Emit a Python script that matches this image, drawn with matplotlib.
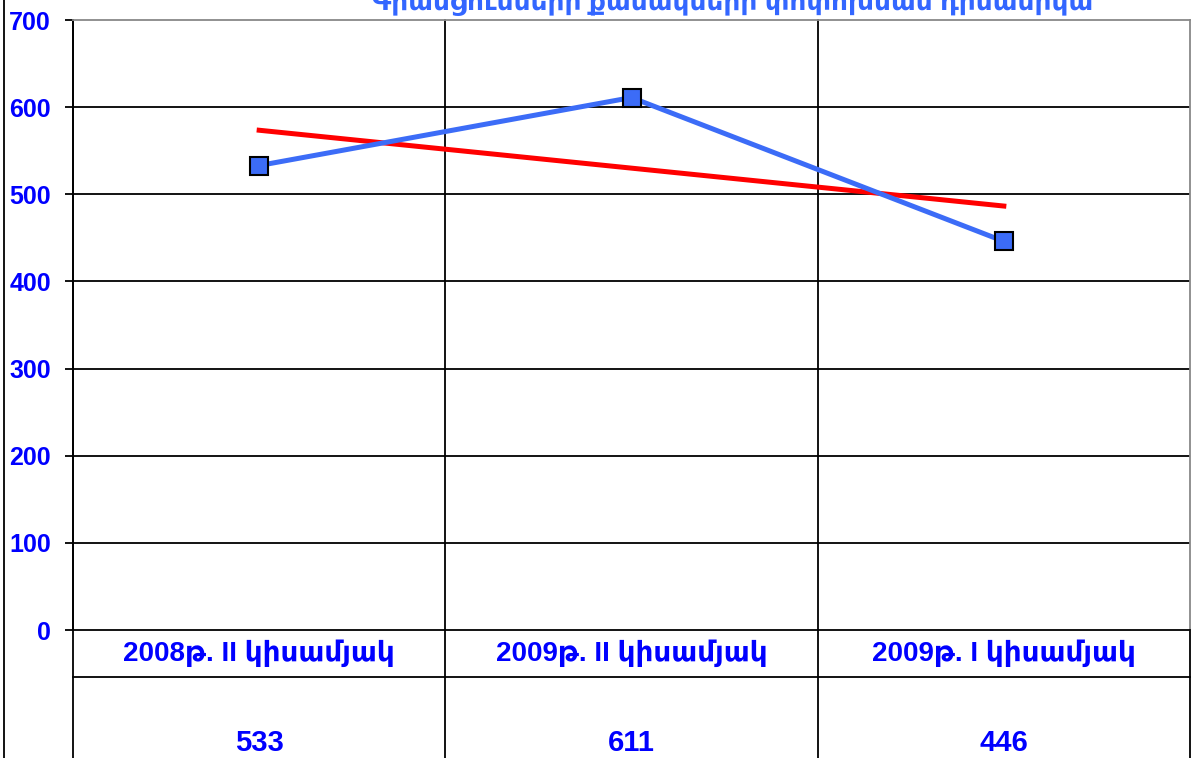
import numpy as np
import matplotlib
matplotlib.use("Agg")
import matplotlib.pyplot as plt
from matplotlib.lines import Line2D

plt.rcParams['font.family'] = ['Liberation Sans', 'DejaVu Sans']

# data
periodner = ["2008թ. II կիսամյակ", "2009թ. II կիսամյակ", "2009թ. I կիսամյակ"]
qanak = [533, 611, 446]
y_ticks = [0, 100, 200, 300, 400, 500, 600, 700]
vernagir = "Գրանցումների քանակների փոփոխման դինամիկա"

blue_txt = "#0000FF"
line_blue = "#3C6CF7"

fig = plt.figure(figsize=(11.97, 7.58), dpi=100)
W, H = 1197, 758
ax = fig.add_axes([73 / W, 1 - 630 / H, (1190 - 73) / W, (630 - 20) / H])

x = np.arange(1, len(qanak) + 1)
ax.set_xlim(0.5, len(qanak) + 0.5)
ax.set_ylim(0, 700)

# horizontal grid
for t in y_ticks[1:-1]:
    ax.axhline(t, color="black", lw=1.3, zorder=1)

# category boundaries, run down through the table
for b in np.arange(0.5, len(qanak), 1.0):
    ax.axvline(b, ymin=-0.3, ymax=1, color="black", lw=1.3, clip_on=False, zorder=1)
ax.axvline(len(qanak) + 0.5, ymin=-0.3, ymax=0, color="black", lw=1.3, clip_on=False)

# trend line
k, c = np.polyfit(x, qanak, 1)
ax.plot(x, k * x + c, color="#FF0000", lw=3.6, zorder=3)

# data series
ax.plot(x, qanak, color=line_blue, lw=3.6, marker="s", ms=12.5,
        markerfacecolor=line_blue, markeredgecolor="black", markeredgewidth=1.5, zorder=4)

ax.set_yticks(y_ticks)
ax.set_yticklabels([str(t) for t in y_ticks], color=blue_txt, fontsize=18, fontweight="bold")
ax.tick_params(axis="y", length=6, width=1.3, pad=10)
ax.set_xticks([])

for s in ["left", "bottom"]:
    ax.spines[s].set_color("black")
    ax.spines[s].set_linewidth(1.3)
for s in ["top", "right"]:
    ax.spines[s].set_color("#888888")
    ax.spines[s].set_linewidth(1.3)

# data table under the plot
row1 = -(677 - 630) / (630 - 20)
ax.plot([0, 1], [row1, row1], transform=ax.transAxes, color="black", lw=1.3, clip_on=False)
tr = ax.get_xaxis_transform()
for xi, lab, v in zip(x, periodner, qanak):
    ax.text(xi, row1 / 2, lab, transform=tr, ha="center", va="center",
            color=blue_txt, fontsize=20, fontweight="bold")
    ax.text(xi, -(743 - 630) / (630 - 20), str(v), transform=tr, ha="center", va="center",
            color=blue_txt, fontsize=21, fontweight="bold")

# outer chart border at left
fig.add_artist(Line2D([4 / W, 4 / W], [0, 1], color="black", lw=1.3, transform=fig.transFigure))

# title (cut at the top of the picture, as in the source)
fig.text(733 / W, 1 - 10 / H, vernagir, ha="center", va="baseline",
         color="#3366FF", fontsize=19, fontweight="bold")

fig.savefig("out.png", dpi=100)
